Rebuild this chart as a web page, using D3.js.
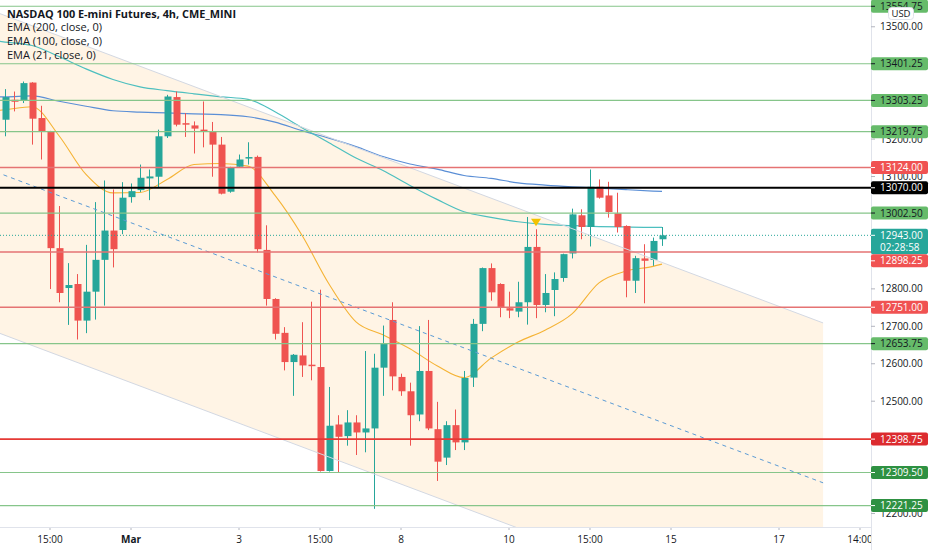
<!DOCTYPE html>
<html>
<head>
<meta charset="utf-8">
<script src="https://cdn.jsdelivr.net/npm/d3@7"></script>
<style>
  body { margin: 0; background: #fff; }
  svg { display: block; font-family: "Open Sans", sans-serif; }
</style>
</head>
<body>
<script>
// ---- data (4h candles, index 0 = first visible bar) ----
var candleOpen = [13251.75,13305,13303,13351,13256.25,13220.75,12908.75,12802.25,12813,12715.25,
  12792.5,12877.5,12955.75,12957.25,13045,13063.75,13095,13099.5,13207.5,13312.25,
  13242.5,13236.5,13225.25,13219,13185.25,13059.5,13126,13148,13152.5,12904,
  12773,12682.5,12604.5,12622.25,12597.5,12591.25,12313.5,12437.75,12406.75,12443.25,
  12416.5,12427.25,12589.5,12717,12564.75,12526.5,12464.5,12580.75,12425.25,12349.25,
  12436,12390,12563,12706.5,12855.5,12813,12748.25,12739.25,12764.25,12912,
  12757,12797,12829,12894.5,12996.5,12965.25,13072.75,13049.5,13001.75,12968,
  12821.75,12881.25,12877.5,12932.5];
var candleHigh = [13333.5,13327,13353.75,13352,13289,13222,13021.25,12868.75,12839.5,12917.5,
  13031.75,13089.5,13065.5,13085,13081.5,13132,13118.75,13225.25,13318.25,13327,
  13269.5,13247.25,13300.5,13245.75,13205.75,13126,13158.75,13191.5,13156,12969.75,
  12775,12697.75,12626,12711,12765.75,12797.75,12538,12462.5,12476,12462.5,
  12634,12626.75,12702,12764.25,12573.5,12549.5,12700.5,12717,12498.25,12446.5,
  12477.75,12580.75,12719.75,12857,12868,12815,12792.5,12819,12992,12959.25,
  12839.5,12844,12894,13014.25,13012.5,13118.75,13092.25,13086,13056.75,12969.75,
  12888.25,12919.25,12937,12965.25];
var candleLow = [13207.5,13274,13296.25,13185.25,13145.5,12799.5,12764.25,12703.75,12664.75,12681.75,
  12718,12755.25,12857.25,12946,13030.25,13058.5,13037,13070,13203,13234,
  13205.75,13161.5,13178,13099.5,13052.25,13056.75,13124,13132,12897.25,12755.25,
  12664.75,12582.25,12514.25,12564.75,12555.75,12312,12312,12310.25,12381.25,12356.25,
  12363.5,12212.5,12514.25,12529,12514.25,12381.25,12446.5,12422.75,12287,12329.5,
  12369.5,12369.5,12538,12687,12768.5,12724.25,12721.75,12724.25,12704.5,12721.75,
  12737.5,12727,12819,12881.25,12932.5,12913.25,13041,12990.25,12950.5,12777.5,
  12789,12761.5,12861.5,12914.75];
var candleClose = [13312.25,13299.75,13349.5,13254.5,13220.75,12908.75,12789,12810.25,12715.25,12792.5,
  12877.5,12955.75,12906,13043.5,13061,13096.75,13100.25,13207.5,13313.75,13238.5,
  13238.5,13228,13219,13185.25,13054.25,13123.25,13145.5,13152,12906,12773,
  12680,12604.5,12624,12595.5,12593.5,12313.5,12434.5,12405,12443.25,12416.5,
  12427.25,12589.5,12655.25,12566.25,12526.5,12462.5,12580.75,12427.25,12338.5,12436,
  12390,12562,12706.5,12855.5,12790.75,12751,12742,12764.25,12912,12757,
  12789,12826.25,12892.75,12999,12965.25,13072.75,13043.5,13005.25,12965.25,12821.75,
  12882,12875,12928,12943];

// moving averages, read every third bar (index -1 = bar just left of the view)
var emaIdx = [-1,0,3,6,9,12,15,18,21,24,27,30,33,36,39,42,45,48,51,54,57,60,63,66,69,72,73];
var ema21 = [13276,13278.5,13286.5,13209,13105.5,13056.25,13057.5,13092,13132,13134.75,13127.75,
  13049.5,12943,12813,12711.75,12677.25,12640,12594.75,12563,12615,12658,
  12689.75,12733,12816,12847.5,12860,12866];
var ema100 = [13462,13459.25,13450,13420.5,13387.5,13359.25,13339.5,13329.5,13321,13313,13306.25,
  13273,13230.5,13190.5,13149.5,13116,13076.25,13039,13006,12991,12979.25,
  12972,12969,12966.5,12965.25,12964.5,12964.5];
var ema200 = [13313,13313,13315.5,13301,13287.75,13275.75,13272.25,13270,13267.25,13265.5,13259.75,
  13245.25,13222.5,13202.5,13180,13153.5,13133.5,13120,13102.75,13095,13083.25,
  13077.25,13072.75,13069.25,13065,13061.25,13060.25];

// horizontal levels drawn on the chart
var levelPrices = [13554.75,13401.25,13303.25,13219.75,13124.00,13070.00,13002.50,12898.25,12751.00,12653.75,12398.75,12309.50,12221.25];
var levelKinds  = ["sup","sup","sup","sup","res","key","sup","res","res","sup","res2","sup2","sup2"];

// parallel channel: two anchor bars, upper-edge prices, width in points
var channelIdx = [0, 90.9];
var channelUpper = [13530, 12709];
var channelWidth = 854;

var markerIdx = [59], markerPrice = [12978];

var priceTicks = [12200,12300,12400,12500,12600,12700,12800,12900,13000,13100,13200,13300,13400,13500];
var timeTickIdx = [5,14,26,35,44,56,65,74,86,95];
var timeTickLabels = ["15:00","Mar","3","15:00","8","10","15:00","15","17","14:00"];

var legendTitle = "NASDAQ 100 E-mini Futures, 4h, CME_MINI";
var legendLines = ["EMA (200, close, 0)", "EMA (100, close, 0)", "EMA (21, close, 0)"];
var countdown = "02:28:58";

// ---- layout ----
var width = 932, height = 550,
    plot_w = 871, plot_h = 527;

var up_col = "#26a69a", down_col = "#ef5350";

var xScale = d3.scaleLinear().domain([0, 96]).range([5, 5 + 96 * 9]);
var yScale = d3.scaleLinear().domain([12164, 13571.5]).range([plot_h, 0]);

var svg = d3.select("body").append("svg")
    .attr("width", width)
    .attr("height", height);

svg.append("rect").attr("width", width).attr("height", height).style("fill", "#fff");

svg.append("defs").append("clipPath").attr("id", "plotclip")
  .append("rect").attr("width", plot_w).attr("height", plot_h);

var plot = svg.append("g").attr("clip-path", "url(#plotclip)");

// channel
function chanPrice(i, off) {
    var t = (i - channelIdx[0]) / (channelIdx[1] - channelIdx[0]);
    return channelUpper[0] + (channelUpper[1] - channelUpper[0]) * t - off;
}
var chanStart = -1, chanEnd = channelIdx[1];
var chanPoly = [[chanStart, chanPrice(chanStart, 0)], [chanEnd, chanPrice(chanEnd, 0)],
                [chanEnd, chanPrice(chanEnd, channelWidth)], [chanStart, chanPrice(chanStart, channelWidth)]];
plot.append("path")
    .attr("d", "M" + chanPoly.map(function(p){ return xScale(p[0]) + "," + yScale(p[1]); }).join("L") + "Z")
    .style("fill", "#fff4e5");

// EMAs
var emaLine = function(vals) {
    return d3.line()
        .x(function(d, k){ return xScale(emaIdx[k]); })
        .y(function(d){ return yScale(d); })
        .curve(d3.curveMonotoneX)(vals);
};
plot.append("path").attr("d", emaLine(ema200)).style("fill", "none").style("stroke", "#5b8fd6").style("stroke-width", 1.2);
plot.append("path").attr("d", emaLine(ema100)).style("fill", "none").style("stroke", "#4dbfbf").style("stroke-width", 1.2);
plot.append("path").attr("d", emaLine(ema21)).style("fill", "none").style("stroke", "#f5b335").style("stroke-width", 1.1);

// candles
var bars = plot.append("g").selectAll("g").data(candleClose).enter().append("g");
bars.append("line")
    .attr("x1", function(d, i){ return Math.round(xScale(i)) + 0.5; })
    .attr("x2", function(d, i){ return Math.round(xScale(i)) + 0.5; })
    .attr("y1", function(d, i){ return yScale(candleHigh[i]); })
    .attr("y2", function(d, i){ return yScale(candleLow[i]); })
    .style("stroke", function(d, i){ return d >= candleOpen[i] ? up_col : down_col; })
    .style("stroke-width", 1);
bars.append("rect")
    .attr("x", function(d, i){ return Math.round(xScale(i)) - 2.5; })
    .attr("width", 7)
    .attr("y", function(d, i){ return yScale(Math.max(d, candleOpen[i])); })
    .attr("height", function(d, i){ return Math.max(1, Math.abs(yScale(d) - yScale(candleOpen[i]))); })
    .style("fill", function(d, i){ return d >= candleOpen[i] ? up_col : down_col; });

// channel edges
[0, channelWidth].forEach(function(off) {
    plot.append("line")
        .attr("x1", xScale(chanStart)).attr("y1", yScale(chanPrice(chanStart, off)))
        .attr("x2", xScale(chanEnd)).attr("y2", yScale(chanPrice(chanEnd, off)))
        .style("stroke", "#d3d8e2").style("stroke-width", 1);
});
plot.append("line")
    .attr("x1", xScale(chanStart)).attr("y1", yScale(chanPrice(chanStart, channelWidth / 2)))
    .attr("x2", xScale(chanEnd)).attr("y2", yScale(chanPrice(chanEnd, channelWidth / 2)))
    .style("stroke", "#5b9bd5").style("stroke-width", 1).style("stroke-dasharray", "4,4");

// horizontal levels
var lineStyle = {
    sup:  {stroke: "#86c58a", w: 1.2, bg: "#66bb6a", fg: "#131722"},
    sup2: {stroke: "#86c58a", w: 1.2, bg: "#2e9142", fg: "#ffffff"},
    res:  {stroke: "#e57373", w: 1.5, bg: "#f05252", fg: "#ffffff"},
    res2: {stroke: "#e53935", w: 1.6, bg: "#dc2b2f", fg: "#ffffff"},
    key:  {stroke: "#000000", w: 2,   bg: "#000000", fg: "#ffffff"}
};
levelPrices.forEach(function(p, k) {
    var s = lineStyle[levelKinds[k]];
    plot.append("line")
        .attr("x1", 0).attr("x2", plot_w)
        .attr("y1", yScale(p)).attr("y2", yScale(p))
        .style("stroke", s.stroke).style("stroke-width", s.w);
});

// last price dotted line
var lastPrice = candleClose[candleClose.length - 1];
plot.append("line")
    .attr("x1", 0).attr("x2", plot_w)
    .attr("y1", yScale(lastPrice)).attr("y2", yScale(lastPrice))
    .style("stroke", up_col).style("stroke-width", 1).style("stroke-dasharray", "1,2");

// alert marker
plot.selectAll(".mk").data(markerIdx).enter().append("path")
    .attr("d", function(d, k) {
        var cx = xScale(d), cy = yScale(markerPrice[k]);
        return "M" + (cx - 5) + "," + (cy - 3.5) + "L" + (cx + 5) + "," + (cy - 3.5) + "L" + cx + "," + (cy + 4) + "Z";
    })
    .style("fill", "#f2c200");

// legend
svg.append("text").attr("x", 7).attr("y", 14).attr("dy", ".35em")
    .text(legendTitle)
    .style("font-size", "10.9px").style("font-weight", "bold").style("fill", "#131722");
legendLines.forEach(function(t, k) {
    svg.append("text").attr("x", 7).attr("y", 27.5 + k * 13.8).attr("dy", ".35em")
        .text(t).style("font-size", "11px").style("fill", "#131722");
});

// ---- price axis ----
svg.append("rect").attr("x", plot_w).attr("width", width - plot_w).attr("height", height).style("fill", "#fff");
svg.append("line").attr("x1", plot_w + 0.5).attr("x2", plot_w + 0.5).attr("y1", 0).attr("y2", height)
    .style("stroke", "#e0e3eb");

// price labels for the levels and the last price, pushed apart where they touch
var labels = levelPrices.map(function(p, k) {
    var s = lineStyle[levelKinds[k]];
    return {p: p, y: yScale(p), top: 6.5, bot: 6.5, bg: s.bg, fg: s.fg, lines: [d3.format(".2f")(p)]};
});
labels.push({p: lastPrice, y: yScale(lastPrice), top: 6.5, bot: 19, bg: up_col, fg: "#fff",
             lines: [d3.format(".2f")(lastPrice), countdown], fixed: true});
labels.sort(function(a, b){ return a.y - b.y; });
var prevBot = -100;
labels.forEach(function(l) {
    if (l.y - l.top < prevBot && !l.fixed) l.y = prevBot + l.top;
    prevBot = l.y + l.bot;
});

// scale ticks; the ones sitting right under a label box are hidden, as on the chart
priceTicks.forEach(function(p) {
    var ty = yScale(p);
    var covered = labels.some(function(l){ return ty > l.y - l.top && ty < l.y + l.bot; });
    svg.append("line").attr("x1", plot_w).attr("x2", plot_w + 4)
        .attr("y1", ty).attr("y2", ty).style("stroke", "#b2b5be");
    if (covered) return;
    svg.append("text").attr("x", 880).attr("y", ty).attr("dy", ".35em")
        .text(d3.format(".2f")(p))
        .style("font-size", "10px").style("fill", "#131722");
});

labels.forEach(function(l) {
    var g = svg.append("g");
    g.append("rect").attr("x", plot_w).attr("y", l.y - l.top)
        .attr("width", 57).attr("height", l.top + l.bot)
        .attr("rx", 2).style("fill", l.bg);
    g.append("line").attr("x1", plot_w).attr("x2", plot_w + 4)
        .attr("y1", l.y).attr("y2", l.y).style("stroke", l.fg);
    l.lines.forEach(function(t, k) {
        g.append("text").attr("x", 880).attr("y", l.y + k * 12).attr("dy", ".35em")
            .text(t).style("font-size", "10px").style("fill", l.fg);
    });
});

// currency box
svg.append("rect").attr("x", 888.5).attr("y", 7.5).attr("width", 25).attr("height", 12)
    .attr("rx", 3).style("fill", "#fff").style("stroke", "#e0e3eb");
svg.append("text").attr("x", 901).attr("y", 13.5).attr("dy", ".35em").attr("text-anchor", "middle")
    .text("USD").style("font-size", "9.5px").style("fill", "#131722");

// ---- time axis ----
svg.append("clipPath").attr("id", "timeclip")
  .append("rect").attr("y", plot_h).attr("width", plot_w).attr("height", height - plot_h);
var tAxis = svg.append("g").attr("clip-path", "url(#timeclip)");
svg.append("line").attr("x1", 0).attr("x2", plot_w).attr("y1", plot_h + 0.5).attr("y2", plot_h + 0.5)
    .style("stroke", "#e0e3eb");
timeTickIdx.forEach(function(i, k) {
    tAxis.append("line").attr("x1", xScale(i)).attr("x2", xScale(i))
        .attr("y1", plot_h).attr("y2", plot_h + 3).style("stroke", "#b2b5be");
    tAxis.append("text").attr("x", xScale(i)).attr("y", 539).attr("dy", ".35em")
        .attr("text-anchor", "middle")
        .text(timeTickLabels[k])
        .style("font-size", "10px")
        .style("font-weight", timeTickLabels[k] == "Mar" ? "bold" : "normal")
        .style("fill", "#131722");
});
</script>
</body>
</html>
